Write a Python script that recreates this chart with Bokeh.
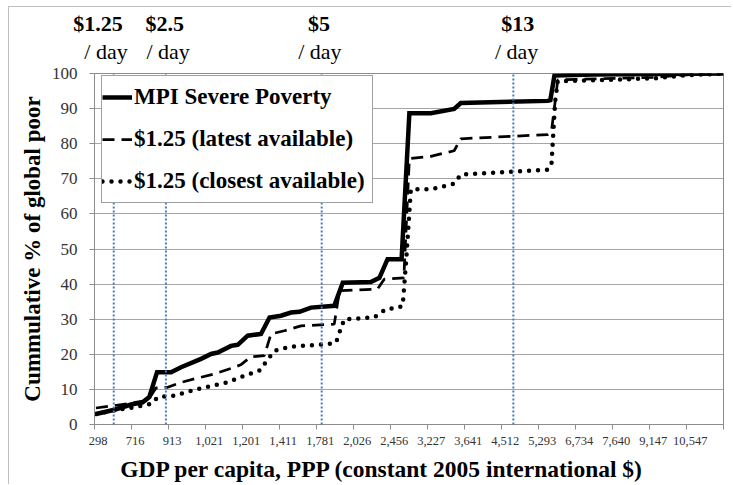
from bokeh.plotting import figure
from bokeh.models import FixedTicker, Legend, LegendItem, LinearAxis
from bokeh.embed import file_html
from bokeh.resources import INLINE

# ---------------- data ----------------
# x positions are in "labelled interval" units of the category axis (0 .. 17)
tick_labels = ["298", "716", "913", "1,021", "1,201", "1,411", "1,781", "2,026",
               "2,456", "3,227", "3,641", "4,512", "5,293", "6,734", "7,640",
               "9,147", "10,547"]

mpi_x = [0.04, 0.54, 0.99, 1.30, 1.48, 1.69, 2.07, 2.34, 2.88, 3.15, 3.33, 3.69,
         3.87, 4.14, 4.50, 4.73, 5.04, 5.31, 5.54, 5.85, 6.48, 6.71, 7.47, 7.70,
         7.92, 8.30, 8.51, 9.09, 9.72, 9.90, 12.25, 12.32, 12.43, 13.50, 17.0]
mpi_y = [3.0, 4.2, 5.7, 6.3, 7.8, 14.9, 14.9, 16.3, 18.7, 20.1, 20.5, 22.4,
         22.7, 25.3, 25.8, 30.5, 31.0, 31.9, 32.1, 33.3, 33.8, 40.4, 40.6, 41.8,
         47.1, 47.1, 88.7, 88.7, 89.9, 91.6, 92.2, 92.4, 99.4, 99.7, 100.0]

latest_x = [0.04, 0.54, 0.99, 1.44, 1.66, 1.98, 2.34, 2.70, 3.24, 3.78, 3.95,
            4.23, 4.59, 4.77, 5.13, 5.58, 6.48, 6.62, 7.65, 7.83, 8.36, 8.51,
            9.09, 9.72, 9.90, 12.25, 12.35, 12.45, 12.52, 15.10, 16.0, 17.0]
latest_y = [4.7, 5.4, 6.1, 6.8, 10.4, 10.6, 12.0, 13.0, 14.4, 16.3, 17.0,
            19.3, 19.6, 25.8, 26.7, 28.1, 28.6, 38.1, 38.6, 41.4, 41.8, 75.8,
            76.4, 78.0, 81.4, 82.6, 83.5, 92.0, 98.2, 98.9, 99.6, 100.0]

closest_x = [0.04, 0.63, 1.08, 1.53, 1.71, 2.16, 2.79, 3.60, 4.05, 4.45, 4.59,
             4.86, 5.31, 6.30, 6.53, 6.62, 6.75, 7.56, 7.88, 8.19, 8.33, 8.43,
             8.55, 9.09, 9.72, 9.90, 12.25, 12.35, 12.45, 12.52, 15.10, 16.0, 17.0]
closest_y = [3.0, 4.2, 4.9, 5.9, 7.8, 8.2, 10.1, 12.0, 13.9, 15.3, 17.2,
             21.0, 22.2, 22.9, 23.4, 26.2, 30.0, 30.5, 32.9, 33.2, 33.8, 47.7,
             67.0, 67.0, 68.6, 71.2, 72.6, 74.0, 92.0, 97.8, 98.6, 99.5, 100.0]

threshold_x = [0.52, 1.93, 6.14, 11.32]
threshold_amount = ["$1.25", "$2.5", "$5", "$13"]
threshold_unit = ["/ day", "/ day", "/ day", "/ day"]

series_names = ["MPI Severe Poverty", "$1.25 (latest available)", "$1.25 (closest available)"]

# ---------------- layout / style ----------------
FONT = "Liberation Serif"
N = len(tick_labels)
GRID = "#a6a6a6"
AXIS = "#8c8c8c"

p = figure(width=723, height=478, output_backend="svg", toolbar_location=None,
           x_range=(0, N), y_range=(0, 100),
           min_border_left=85, min_border_right=9, min_border_top=65,
           min_border_bottom=61)
p.styles = {"margin-left": "8px", "margin-top": "6px",
            "border-left": "1px solid #bfbfbf", "border-top": "1px solid #bfbfbf"}
p.outline_line_color = AXIS
p.background_fill_color = "white"
p.border_fill_color = "white"

# x axis (category-like: labels every interval, tick marks between)
major = [k + 0.1 for k in range(N)]
xax = p.xaxis[0]
xax.ticker = FixedTicker(ticks=major, minor_ticks=list(range(N + 1)))
xax.major_label_overrides = {t: lab for t, lab in zip(major, tick_labels)}
xax.major_tick_out = 0
xax.major_tick_in = 0
xax.minor_tick_out = 5
xax.minor_tick_in = 0
xax.minor_tick_line_color = AXIS
xax.axis_line_color = AXIS
xax.major_label_standoff = 7
xax.major_label_text_font = FONT
xax.major_label_text_font_size = "12.5px"
xax.major_label_text_color = "#333333"
# trailing no-break spaces shift the centred title left, as in the original
xax.axis_label = "GDP per capita, PPP (constant 2005 international $)" + "\u00a0" * 9
xax.axis_label_text_font = FONT
xax.axis_label_text_font_style = "bold"
xax.axis_label_text_font_size = "23.5px"
xax.axis_label_text_color = "black"
xax.axis_label_standoff = 8

# y axis
yax = p.yaxis[0]
yax.ticker = FixedTicker(ticks=list(range(0, 101, 10)))
yax.minor_tick_line_color = None
yax.major_tick_out = 5
yax.major_tick_in = 0
yax.major_tick_line_color = AXIS
yax.axis_line_color = AXIS
yax.major_label_standoff = 12
yax.major_label_text_font = FONT
yax.major_label_text_font_size = "17px"
yax.major_label_text_color = "#333333"
yax.axis_label = "Cummulative % of global poor"
yax.axis_label_text_font = FONT
yax.axis_label_text_font_style = "bold"
yax.axis_label_text_font_size = "23px"
yax.axis_label_text_color = "black"
yax.axis_label_standoff = 4

p.xgrid.grid_line_color = None
p.ygrid.ticker = FixedTicker(ticks=list(range(10, 101, 10)))
p.ygrid.grid_line_color = GRID
p.ygrid.grid_line_width = 1

# threshold headers as two bare axes above the plot (not clipped by the frame)
top_x = [0.095, 1.90, 6.07, 11.44]
bot_x = [0.31, 1.99, 6.09, 11.41]


def header_axis(xs, texts, bold, standoff):
    ax = LinearAxis(ticker=FixedTicker(ticks=xs),
                    major_label_overrides={x: t for x, t in zip(xs, texts)},
                    axis_line_color=None, major_tick_line_color=None,
                    minor_tick_line_color=None, major_tick_out=0, major_tick_in=0,
                    minor_tick_out=0, minor_tick_in=0,
                    major_label_standoff=standoff,
                    major_label_text_font=FONT,
                    major_label_text_font_style="bold" if bold else "normal",
                    major_label_text_font_size="22px",
                    major_label_text_color="black")
    return ax


p.add_layout(header_axis(bot_x, threshold_unit, False, 10), "above")
p.add_layout(header_axis(top_x, threshold_amount, True, 0), "above")

# series
r_mpi = p.line(mpi_x, mpi_y, line_color="black", line_width=4.5, line_join="miter")
r_latest = p.line(latest_x, latest_y, line_color="black", line_width=2.75,
                  line_dash="12 7")
r_closest = p.line(closest_x, closest_y, line_color="black", line_width=4.5,
                   line_dash="0 9", line_cap="round")

# threshold lines drawn above the legend
p.segment(x0=threshold_x, y0=[0] * len(threshold_x), x1=threshold_x,
          y1=[100] * len(threshold_x), line_color="#4a7ebb",
          line_width=2, line_dash="2 2", level="overlay")

legend = Legend(items=[LegendItem(label=series_names[0], renderers=[r_mpi]),
                       LegendItem(label=series_names[1], renderers=[r_latest]),
                       LegendItem(label=series_names[2], renderers=[r_closest])],
                location=(7, 221), orientation="vertical",
                padding=0, spacing=0, margin=0,
                glyph_width=30, glyph_height=42, label_height=42,
                label_standoff=2, label_width=238,
                label_text_font=FONT, label_text_font_style="bold",
                label_text_font_size="23px", label_text_color="black",
                border_line_color="#404040", border_line_width=1,
                background_fill_color="white", background_fill_alpha=1.0)
p.add_layout(legend, "center")

open("out.html", "w").write(file_html(p, INLINE))
